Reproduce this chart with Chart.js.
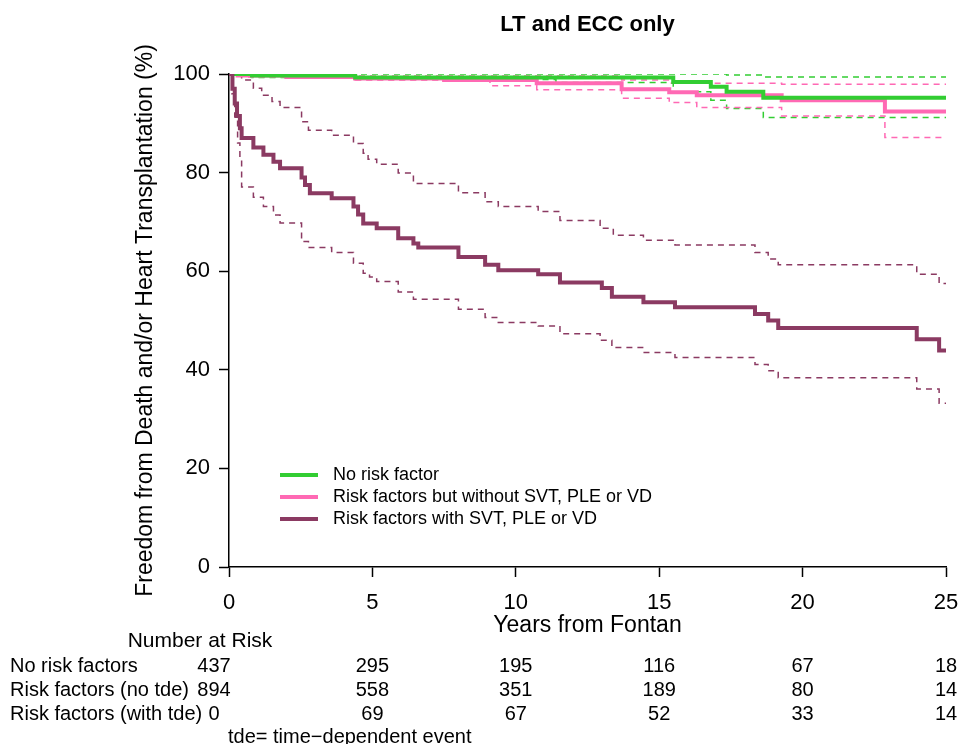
<!DOCTYPE html>
<html>
<head>
<meta charset="utf-8">
<script src="https://cdn.jsdelivr.net/npm/chart.js@4/dist/chart.umd.min.js"></script>
<style>
  html, body { margin: 0; padding: 0; background: #fff; }
  #wrap { width: 959px; height: 744px; }
</style>
</head>
<body>
<div id="wrap"><canvas id="km" width="959" height="744"></canvas></div>
<script>
// x ticks (years) and y ticks (%)
const years = [0, 5, 10, 15, 20, 25];
const pctTicks = [0, 20, 40, 60, 80, 100];

// No risk factor: estimate + CI
const noRiskT = [0, 0.8, 4.4, 15.49, 16.8, 17.35, 18.63, 25];
const noRiskS = [100, 99.7, 99.3, 98.4, 97.4, 96.4, 95.2, 95.2];
const noRiskUpT = [0, 17.35, 18.63, 25];
const noRiskUpS = [100, 99.8, 99.4, 99.4];
const noRiskLoT = [0, 0.8, 4.4, 11.4, 15.49, 16.8, 17.35, 18.63, 25];
const noRiskLoS = [100, 99.3, 98.9, 98.3, 96.4, 94.7, 93.0, 91.2, 91.2];

// Risk factors, no SVT/PLE/VD
const riskT = [0, 0.3, 2, 4.4, 7.5, 10.73, 13.69, 15.35, 16.31, 19.27, 22.87, 25];
const riskS = [100, 99.7, 99.4, 99.1, 98.8, 98.1, 96.9, 96.3, 95.7, 94.7, 92.4, 92.4];
const riskUpT = [0, 4.4, 13.69, 15.35, 19.27, 25];
const riskUpS = [100, 99.6, 98.8, 98.1, 97.9, 97.9];
const riskLoT = [0, 0.5, 4.4, 9.1, 10.73, 13.69, 15.35, 16.31, 19.27, 22.87, 25];
const riskLoS = [100, 99.4, 98.8, 97.6, 96.8, 95.1, 94.2, 93.2, 91.5, 87.1, 87.1];

// Risk factors with SVT, PLE or VD
const tdeT = [0, 0.12, 0.2, 0.28, 0.38, 0.44, 0.85, 1.2, 1.55, 1.78, 2.53, 2.65, 2.82, 3.58, 4.34, 4.5, 4.68, 5.15, 5.9, 6.43, 6.6, 8.0, 8.93, 9.39, 10.78, 11.54, 13.0, 13.35, 14.45, 15.55, 18.34, 18.8, 19.15, 23.98, 24.76, 25];
const tdeS = [100, 97, 94, 91.5, 89, 87.0, 85.1, 83.6, 82.2, 80.9, 79, 77.5, 75.8, 74.8, 73.1, 71.5, 69.7, 68.7, 66.7, 65.6, 64.8, 62.9, 61.3, 60.2, 59.4, 57.7, 56.6, 54.8, 53.7, 52.7, 51.3, 50.0, 48.5, 46.2, 43.9, 43.9];
const tdeUpT = [0, 0.44, 0.85, 1.14, 1.5, 1.78, 2.53, 2.77, 3.58, 4.34, 4.68, 4.85, 5.15, 5.9, 6.43, 8.0, 8.93, 9.39, 10.78, 11.54, 12.94, 13.4, 14.45, 15.55, 18.34, 18.8, 19.15, 23.98, 24.76, 25];
const tdeUpS = [100, 98.8, 97.1, 95.7, 94.4, 93.2, 90.3, 88.6, 87.6, 85.9, 83.9, 82.7, 81.7, 79.9, 77.8, 75.9, 74.1, 73.1, 72.1, 70.3, 68.7, 67.3, 66.3, 65.3, 63.8, 62.5, 61.3, 59.4, 57.5, 57.5];
const tdeLoT = [0, 0.1, 0.2, 0.3, 0.38, 0.44, 0.85, 1.2, 1.55, 1.78, 2.53, 2.77, 3.58, 4.34, 4.68, 4.9, 5.15, 5.9, 6.43, 8.0, 8.93, 9.39, 10.78, 11.54, 12.94, 13.35, 14.45, 15.55, 18.34, 18.8, 19.15, 23.98, 24.76, 25];
const tdeLoS = [100, 96, 91.3, 86, 82.6, 77.1, 75.0, 73.1, 71.4, 69.8, 66.0, 64.8, 63.8, 61.6, 59.6, 58.8, 57.9, 55.8, 54.3, 52.3, 50.6, 49.6, 48.9, 47.3, 46.0, 44.5, 43.5, 42.5, 41.1, 39.8, 38.4, 36.1, 33.2, 33.2];

const legendLabels = ['No risk factor', 'Risk factors but without SVT, PLE or VD', 'Risk factors with SVT, PLE or VD'];

// number at risk table
const riskRowLabels = ['No risk factors', 'Risk factors (no tde)', 'Risk factors (with tde)'];
const atRiskNone = [437, 295, 195, 116, 67, 18];
const atRiskNoTde = [894, 558, 351, 189, 80, 14];
const atRiskTde = [0, 69, 67, 52, 33, 14];

const GREEN = '#32CD32';
const PINK = '#FF69B4';
const PURPLE = '#8B3A62';
const FONT = '"Liberation Sans", Arial, Helvetica, sans-serif';

function pts(t, s) {
    return t.map((x, i) => ({x: x, y: s[i]}));
}

function solid(label, t, s, color) {
    return {label: label, data: pts(t, s), borderColor: color, borderWidth: 4,
        stepped: true, pointRadius: 0, fill: false, showLine: true};
}

function dashed(t, s, color) {
    return {label: '', data: pts(t, s), borderColor: color, borderWidth: 1.5,
        borderDash: [6, 5], stepped: true, pointRadius: 0, fill: false, showLine: true};
}

const extras = {
    id: 'extras',
    afterDraw(chart) {
        const ctx = chart.ctx;
        const area = chart.chartArea;
        const xs = chart.scales.x;
        ctx.save();
        ctx.fillStyle = '#000';
        ctx.textBaseline = 'middle';

        // title
        ctx.font = 'bold 22px ' + FONT;
        ctx.textAlign = 'center';
        ctx.fillText('LT and ECC only', (area.left + area.right) / 2, 25);

        // legend
        const colors = [GREEN, PINK, PURPLE];
        ctx.font = '18px ' + FONT;
        ctx.textAlign = 'left';
        legendLabels.forEach((lab, i) => {
            const y = 475 + i * 22;
            ctx.strokeStyle = colors[i];
            ctx.lineWidth = 4;
            ctx.beginPath();
            ctx.moveTo(280, y);
            ctx.lineTo(318, y);
            ctx.stroke();
            ctx.fillText(lab, 333, y);
        });

        // number at risk
        ctx.font = '21px ' + FONT;
        ctx.textAlign = 'center';
        ctx.fillText('Number at Risk', 200, 641);
        ctx.font = '20px ' + FONT;
        const rows = [atRiskNone, atRiskNoTde, atRiskTde];
        rows.forEach((row, r) => {
            const y = 666 + r * 24;
            ctx.textAlign = 'left';
            ctx.fillText(riskRowLabels[r], 10, y);
            ctx.textAlign = 'center';
            row.forEach((n, i) => {
                let x = xs.getPixelForValue(years[i]);
                if (i === 0) x -= 15;
                ctx.fillText(String(n), x, y);
            });
        });
        ctx.textAlign = 'left';
        ctx.fillText('tde= time\u2212dependent event', 228, 737);
        ctx.restore();
    }
};

const ctx = document.getElementById('km').getContext('2d');
new Chart(ctx, {
    type: 'line',
    data: {
        datasets: [
            solid(legendLabels[2], tdeT, tdeS, PURPLE),
            solid(legendLabels[0], noRiskT, noRiskS, GREEN),
            solid(legendLabels[1], riskT, riskS, PINK),
            dashed(tdeUpT, tdeUpS, PURPLE),
            dashed(tdeLoT, tdeLoS, PURPLE),
            dashed(riskUpT, riskUpS, PINK),
            dashed(riskLoT, riskLoS, PINK),
            dashed(noRiskUpT, noRiskUpS, GREEN),
            dashed(noRiskLoT, noRiskLoS, GREEN)
        ]
    },
    options: {
        responsive: false,
        animation: false,
        layout: {padding: {left: 132, top: 74, right: 13, bottom: 105}},
        plugins: {
            legend: {display: false},
            title: {display: false},
            tooltip: {enabled: false}
        },
        scales: {
            x: {
                type: 'linear', min: 0, max: 25,
                afterBuildTicks: s => { s.ticks = years.map(v => ({value: v})); },
                afterFit: s => { s.height = 72; s.paddingLeft = 0; s.paddingRight = 0; },
                grid: {drawOnChartArea: false, drawTicks: true, tickLength: 10, tickColor: '#000', tickWidth: 1.5},
                border: {display: true, color: '#000', width: 1.5},
                ticks: {color: '#000', padding: 13, font: {family: FONT, size: 22}, maxRotation: 0},
                title: {display: true, text: 'Years from Fontan', color: '#000',
                    font: {family: FONT, size: 23}, padding: {top: 0, bottom: 0}}
            },
            y: {
                type: 'linear', min: 0, max: 100,
                afterBuildTicks: s => { s.ticks = pctTicks.map(v => ({value: v})); },
                afterFit: s => { s.width = 97; s.paddingTop = 0; s.paddingBottom = 0; },
                grid: {drawOnChartArea: false, drawTicks: true, tickLength: 10, tickColor: '#000', tickWidth: 1.5},
                border: {display: true, color: '#000', width: 1.5},
                ticks: {color: '#000', padding: 9, font: {family: FONT, size: 22}},
                title: {display: true, text: 'Freedom from Death and/or Heart Transplantation (%)', color: '#000',
                    font: {family: FONT, size: 23}, padding: {top: 0, bottom: 0}}
            }
        }
    },
    plugins: [extras]
});
</script>
</body>
</html>
